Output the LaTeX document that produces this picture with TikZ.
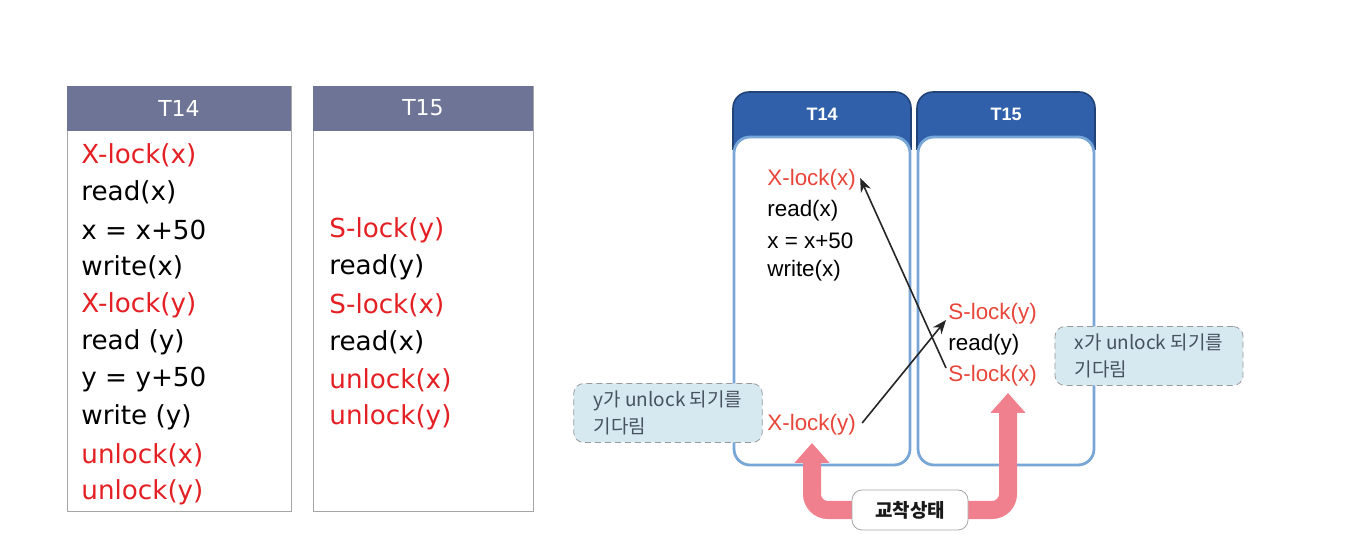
\documentclass[tikz,border=0pt]{standalone}
\usepackage{fontspec}
\setmainfont{DejaVu Sans}
\newfontfamily\rfont{Liberation Sans}
\newfontfamily\kfont{Noto Sans CJK KR}
\usetikzlibrary{arrows.meta,positioning}
\definecolor{hdrgray}{RGB}{110,116,150}
\definecolor{lockred}{RGB}{228,32,36}
\definecolor{lockred2}{RGB}{232,70,58}
\definecolor{panelblue}{RGB}{48,96,170}
\definecolor{edgeblue}{RGB}{120,166,215}
\definecolor{notefill}{RGB}{214,232,240}
\definecolor{notetext}{RGB}{70,82,94}
\definecolor{pinkarrow}{RGB}{240,128,142}

\begin{document}
\begin{tikzpicture}[x=0.5pt, y=-0.5pt, every node/.style={inner sep=0pt},
  ltxt/.style={anchor=west, font=\fontsize{13.1}{16}\selectfont},
  rtxt/.style={anchor=west, font=\rfont\fontsize{11.2}{14}\selectfont},
  hdr/.style={text=white, font=\fontsize{11}{13}\selectfont},
  rhdr/.style={text=white, font=\rfont\bfseries\fontsize{9}{11}\selectfont},
  note/.style={draw=gray!80, densely dashed, fill=notefill, rounded corners=5pt, minimum width=94pt, minimum height=29.5pt, inner xsep=10pt, align=left, text=notetext, font=\kfont\fontsize{9.5}{13.5}\selectfont},
  dep/.style={->, >={Stealth[length=7pt, width=5.5pt]}, draw=gray!30!black, line width=0.8pt},
  fat/.style={pinkarrow, line width=9pt, rounded corners=8pt, -{Triangle[width=17pt, length=10pt]}}]
\useasboundingbox (0,0) rectangle (1348,560);
% left tables
\draw[gray!70, fill=white] (67,86) rectangle (291,511);
\fill[hdrgray] (67,86) rectangle (291,131);
\node[hdr] (L14) at (179,108) {T14};
\draw[gray!70, fill=white] (313,86) rectangle (533,511);
\fill[hdrgray] (313,86) rectangle (533,131);
\node[hdr] (L15) at (423,108) {T15};
\foreach \t/\c [count=\i] in {X-lock(x)/lockred, read(x)/black, {x = x+50}/black, write(x)/black, X-lock(y)/lockred, read (y)/black, {y = y+50}/black, write (y)/black, unlock(x)/lockred, unlock(y)/lockred}
  {\node[ltxt, text=\c] (a\i) at (81,117.5+37.5*\i) {\t};}
\foreach \t/\c [count=\i] in {S-lock(y)/lockred, read(y)/black, S-lock(x)/lockred, read(x)/black, unlock(x)/lockred, unlock(y)/lockred}
  {\node[ltxt, text=\c] (b\i) at (329,192.5+37.5*\i) {\t};}
% right panels
\foreach \x/\n in {733/14, 917/15} {
  \fill[panelblue, rounded corners=8pt] (\x,160) -- (\x,92) -- (\x+178,92) -- (\x+178,160) -- cycle;
  \draw[panelblue!70!black, line width=0.8pt, rounded corners=8pt] (\x,150) -- (\x,92) -- (\x+178,92) -- (\x+178,150);
  \draw[edgeblue, line width=1.4pt, fill=white, rounded corners=8pt] (\x+1,137) rectangle (\x+177,465);
  \node[rhdr] (R\n) at (\x+89,114) {T\n};
}
\node[rtxt, text=lockred2] (cx1) at (767,180) {X-lock(x)};
\node[rtxt] (cx2) at (767,211) {read(x)};
\node[rtxt] (cx3) at (767,241) {x = x+50};
\node[rtxt] (cx4) at (767,271) {write(x)};
\node[rtxt, text=lockred2] (cy1) at (767,425) {X-lock(y)};
\node[rtxt, text=lockred2] (dy1) at (948,314) {S-lock(y)};
\node[rtxt] (dy2) at (948,345) {read(y)};
\node[rtxt, text=lockred2] (dx1) at (948,376) {S-lock(x)};
\draw[dep] ([xshift=3pt, yshift=1pt]cy1.east) -- ([xshift=-1pt, yshift=-3pt]dy1.west);
\draw[dep] ([xshift=-1pt, yshift=4pt]dx1.west) -- ([xshift=2pt, yshift=1pt]cx1.east);
% notes
\node[note] (wy) at (668,413) {y가 unlock 되기를\\기다림};
\node[note] (wx) at (1149,356) {x가 unlock 되기를\\기다림};
% deadlock
\node (dl) at (910,510) {};
\draw[fat] (dl.center) -| (812,443);
\draw[fat] (dl.center) -| (1008,393);
\node[draw=gray!70, fill=white, rounded corners=5pt, minimum width=58pt, minimum height=20pt, font=\kfont\bfseries\fontsize{9.5}{11}\selectfont, text=gray!20!black] (dlbox) at (910,510) {교착상태};
\end{tikzpicture}
\end{document}
